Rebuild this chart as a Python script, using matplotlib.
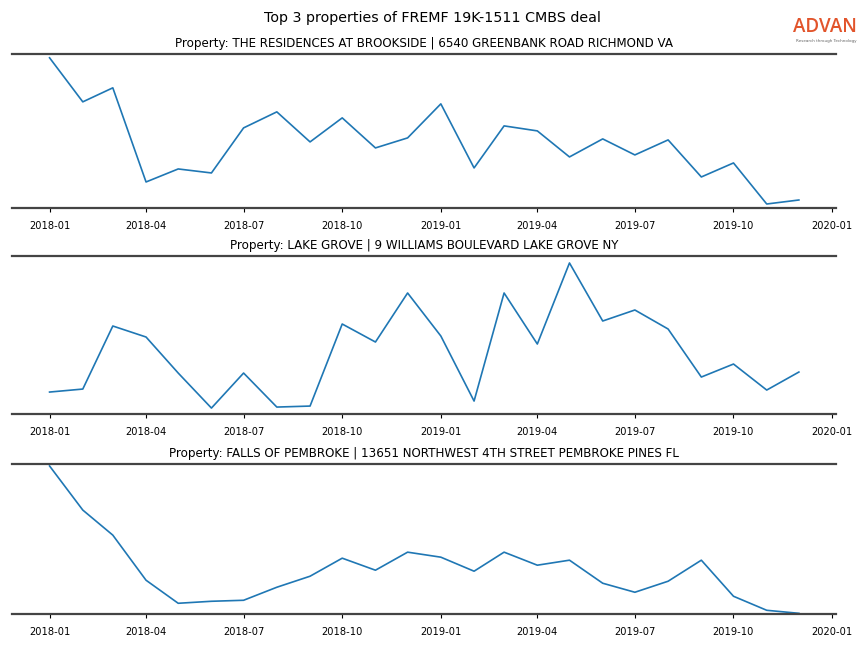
import pandas as pd
import matplotlib
matplotlib.use("Agg")
import matplotlib.pyplot as plt
import matplotlib.dates as mdates

# ---------------- DATA ----------------
months = pd.date_range("2018-01-01", "2019-12-01", freq="MS")

titles = [
    "Property: THE RESIDENCES AT BROOKSIDE | 6540 GREENBANK ROAD RICHMOND VA",
    "Property: LAKE GROVE | 9 WILLIAMS BOULEVARD LAKE GROVE NY",
    "Property: FALLS OF PEMBROKE | 13651 NORTHWEST 4TH STREET PEMBROKE PINES FL",
]

# monthly visit counts (relative)
brookside = [150, 106, 120, 26, 39, 35, 80, 96, 66, 90, 60, 70,
             104, 40, 82, 77, 51, 69, 53, 68, 31, 45, 4, 8]
lake_grove = [22, 25, 88, 77, 41, 6, 41, 7, 8, 90, 72, 121,
              78, 13, 121, 70, 151, 93, 104, 85, 37, 50, 24, 42]
pembroke = [148, 104, 79, 34, 11, 13, 14, 27, 38, 56, 44, 62,
            57, 43, 62, 49, 54, 31, 22, 33, 54, 18, 4, 1]

series = [brookside, lake_grove, pembroke]
y_tops = [154, 158, 150]

# ---------------- PLOT ----------------
fig = plt.figure(figsize=(8.64, 6.48), dpi=100)
fig.suptitle("Top 3 properties of FREMF 19K-1511 CMBS deal", fontsize=10.3, y=0.983)

# logo
fig.text(0.992, 0.950, "ADVAN", color="#e2542b", fontsize=13.5,
         ha="right", va="baseline", family="Open Sans", fontweight="semibold")
fig.text(0.992, 0.9405, "Research through Technology", color="#666666", fontsize=3,
         ha="right", va="top")

boxes = [(0.679, 0.917), (0.361, 0.605), (0.052, 0.284)]
for (bottom, top), title, values, ytop in zip(boxes, titles, series, y_tops):
    ax = fig.add_axes([0.014, bottom, 0.954, top - bottom])
    ax.plot(months, values, color="#1f77b4", linewidth=1.2)
    ax.set_ylim(0, ytop)
    ax.set_title(title, fontsize=8.6, pad=5)
    ax.spines["left"].set_visible(False)
    ax.spines["right"].set_visible(False)
    for s in ("top", "bottom"):
        ax.spines[s].set_color("#444444")
        ax.spines[s].set_linewidth(1.6)
    ax.set_yticks([])
    ax.xaxis.set_major_locator(mdates.MonthLocator(bymonth=[1, 4, 7, 10]))
    ax.xaxis.set_major_formatter(mdates.DateFormatter("%Y-%m"))
    ax.tick_params(axis="x", labelsize=7.1, length=3, width=0.8, pad=6)

fig.savefig("out.png", dpi=100)
